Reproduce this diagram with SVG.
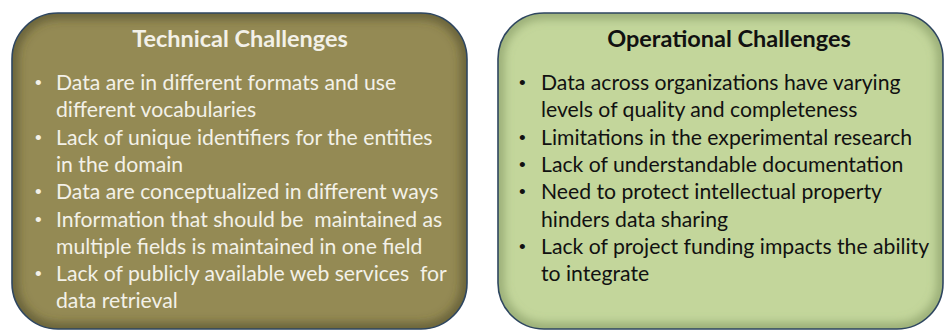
<svg xmlns="http://www.w3.org/2000/svg" width="944" height="331" viewBox="0 0 944 331">
<style>
.title{font-family:Lato,"Liberation Sans",sans-serif;font-weight:bold;font-size:23.5px;text-anchor:middle}
.item{font-family:Lato,"Liberation Sans",sans-serif;font-size:21.2px}
.bul{font-family:"Liberation Sans",sans-serif;font-size:19px}
.light{fill:#F3F1E8}
.dark{fill:#111111}
.edge{fill:none;stroke:#2E4660;stroke-width:1.6}
</style>
<defs>
<filter id="glow" x="-10%" y="-10%" width="120%" height="120%">
<feGaussianBlur stdDeviation="5"/>
</filter>
<clipPath id="clipL"><rect x="12" y="13" width="455" height="316" rx="46"/></clipPath>
<clipPath id="clipR"><rect x="498" y="13" width="445" height="316" rx="46"/></clipPath>
</defs>
<rect width="944" height="331" fill="#FFFFFF"/>
<g id="technical">
<rect x="12" y="13" width="455" height="316" rx="46" fill="#948A54"/>
<g clip-path="url(#clipL)"><rect x="12" y="13" width="455" height="316" rx="46" fill="none" stroke="#4A4526" stroke-opacity="0.6" stroke-width="12" filter="url(#glow)"/></g>
<rect class="edge" x="12" y="13" width="455" height="316" rx="46"/>
<text class="title light" x="240" y="47">Technical Challenges</text>
<g class="light">
<g class="bul">
<text x="35" y="89">•</text><text x="35" y="144">•</text><text x="35" y="198">•</text><text x="35" y="226">•</text><text x="35" y="280">•</text>
</g>
<g class="item">
<text x="56" y="90">Data are in different formats and use</text>
<text x="56" y="117">different vocabularies</text>
<text x="56" y="145">Lack of unique identifiers for the entities</text>
<text x="56" y="172">in the domain</text>
<text x="56" y="199">Data are conceptualized in different ways</text>
<text x="56" y="227" xml:space="preserve">Information that should be  maintained as</text>
<text x="56" y="254">multiple fields is maintained in one field</text>
<text x="56" y="281" xml:space="preserve">Lack of publicly available web services  for</text>
<text x="56" y="308">data retrieval</text>
</g>
</g>
</g>
<g id="operational">
<rect x="498" y="13" width="445" height="316" rx="46" fill="#C3D69B"/>
<g clip-path="url(#clipR)"><rect x="498" y="13" width="445" height="316" rx="46" fill="none" stroke="#7C8F5A" stroke-opacity="0.6" stroke-width="12" filter="url(#glow)"/></g>
<rect class="edge" x="498" y="13" width="445" height="316" rx="46"/>
<text class="title dark" x="729" y="47">Operational Challenges</text>
<g class="dark">
<g class="bul">
<text x="519" y="89">•</text><text x="519" y="144">•</text><text x="519" y="171">•</text><text x="519" y="198">•</text><text x="519" y="253">•</text>
</g>
<g class="item">
<text x="541" y="90">Data across organizations have varying</text>
<text x="541" y="117">levels of quality and completeness</text>
<text x="541" y="145">Limitations in the experimental research</text>
<text x="541" y="172">Lack of understandable documentation</text>
<text x="541" y="199">Need to protect intellectual property</text>
<text x="541" y="227">hinders data sharing</text>
<text x="541" y="254">Lack of project funding impacts the ability</text>
<text x="541" y="281">to integrate</text>
</g>
</g>
</g>
</svg>
